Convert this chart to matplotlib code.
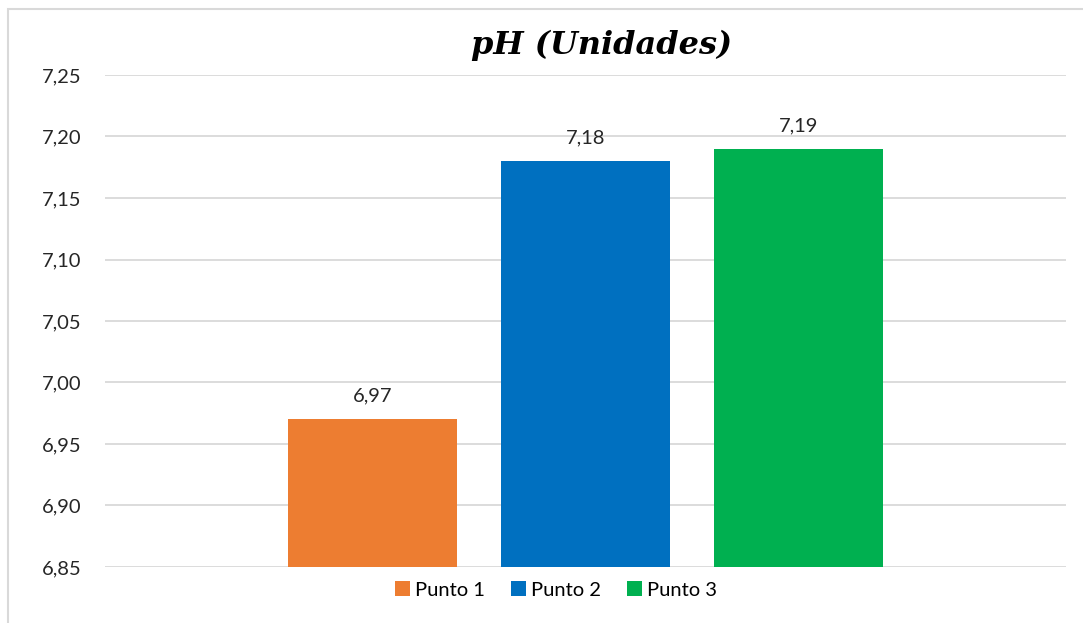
import matplotlib
matplotlib.use('Agg')
import matplotlib.pyplot as plt
from matplotlib.patches import Rectangle, Patch
from matplotlib.ticker import FuncFormatter
import numpy as np

#Data
#--------------------------------
series = ['Punto 1', 'Punto 2', 'Punto 3']
values = [6.97, 7.18, 7.19]
colors = ['#ED7D31', '#0070C0', '#00B050']
yticks = [6.85, 6.90, 6.95, 7.00, 7.05, 7.10, 7.15, 7.20, 7.25]
#--------------------------------

plt.rcParams['font.family'] = ['Lato', 'DejaVu Sans']
size_ticks = 14.5; size_title = 23

fig = plt.figure(figsize=(10.83, 6.23), dpi=100)
ax = fig.add_axes([105/1083, 1-567/623, (1066-105)/1083, (567-75)/623])

#chart border
fig.patches.append(Rectangle((8/1083, -0.05), 1.1, 1-9/623+0.05, transform=fig.transFigure,
                             fill=False, edgecolor='#d9d9d9', linewidth=1.5))

bar_w = 0.176; offset = 0.2216
pos = np.array([-offset, 0, offset])
ax.bar(pos, np.array(values) - yticks[0], bottom=yticks[0], width=bar_w,
       color=colors, zorder=3)
for x, v in zip(pos, values):
    ax.text(x, v + 0.012, ('%.2f' % v).replace('.', ','), ha='center', va='bottom',
            fontsize=size_ticks, color='#262626')

ax.set_xlim(-0.5, 0.5)
ax.set_ylim(yticks[0], yticks[-1])
ax.set_yticks(yticks)
ax.yaxis.set_major_formatter(FuncFormatter(lambda v, p: ('%.2f' % v).replace('.', ',')))
ax.tick_params(axis='y', length=0, pad=17, labelsize=size_ticks, labelcolor='#262626')
ax.set_xticks([])
ax.grid(axis='y', color='#d9d9d9', linewidth=1.3, zorder=0)
for s in ax.spines.values():
    s.set_visible(False)

#title
fig.text(602/1083, 1-45/623, 'pH (Unidades)', ha='center', va='center', fontsize=size_title,
         family='DejaVu Serif', weight='bold', style='italic')

handles = [Patch(facecolor=c, label=s) for c, s in zip(colors, series)]
fig.legend(handles=handles, loc='center', bbox_to_anchor=(556/1083, 1-590/623), ncol=3,
           frameon=False, fontsize=size_ticks, handlelength=0.75, handleheight=0.75,
           handletextpad=0.25, columnspacing=1.3)

plt.savefig('out.png', dpi=100)
